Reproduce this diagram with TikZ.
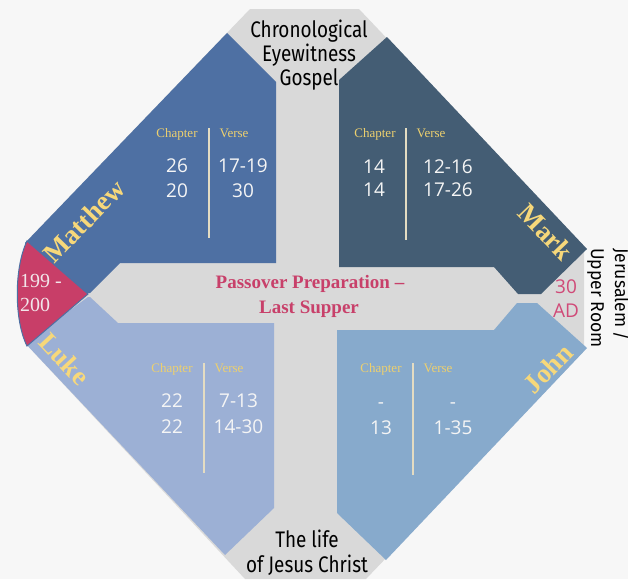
\documentclass[tikz,border=0pt]{standalone}
\usepackage{fontspec}
\setmainfont{Liberation Serif}
\newfontfamily\titlefont[FakeStretch=0.84]{Fira Sans}
\newfontfamily\sidefont[FakeStretch=0.95]{Fira Sans}
\newfontfamily\numfont{Open Sans}
\definecolor{bgc}{HTML}{F7F7F7}
\definecolor{grayc}{HTML}{D9D9D9}
\definecolor{mattc}{HTML}{4E70A3}
\definecolor{markc}{HTML}{445D74}
\definecolor{lukec}{HTML}{9CB0D5}
\definecolor{johnc}{HTML}{87AACC}
\definecolor{redc}{HTML}{C83E68}
\definecolor{yelc}{HTML}{F7D87A}
\definecolor{labc}{HTML}{EDD06E}
\definecolor{pinkc}{HTML}{C8406A}
\definecolor{adc}{HTML}{D04A78}
\definecolor{numc}{HTML}{F5F5F5}
\definecolor{divc}{HTML}{E4DCC2}
\definecolor{redtxt}{HTML}{F2E6EA}
\begin{document}
\begin{tikzpicture}[x=1pt,y=-1pt,
  txt/.style={inner sep=0pt,anchor=base},
  titletxt/.style={txt,font=\titlefont\fontsize{22.5}{24}\selectfont,text=black},
  sidetxt/.style={inner sep=0pt,anchor=base west,rotate=-90,font=\sidefont\fontsize{18.5}{20}\selectfont,text=black},
  passtxt/.style={txt,font=\bfseries\fontsize{19}{21}\selectfont,text=pinkc},
  lab/.style={txt,font=\fontsize{13}{15}\selectfont,text=labc},
  num/.style={txt,font=\numfont\fontsize{19}{21}\selectfont,text=numc},
  gname/.style={inner sep=0pt,anchor=center,font=\bfseries\fontsize{27}{29}\selectfont,text=yelc},
  divline/.style={draw=divc,line width=1.5pt}]
\useasboundingbox (0,0) rectangle (628,579);
\fill[bgc] (0,0) rectangle (628,579);
% gray octagon
\fill[grayc] (250,9) -- (359,9) -- (584,246) -- (584,351) -- (366,579) -- (245,579) -- (25,343) -- (25,243) -- cycle;
% gospel panels
\fill[mattc] (227,33) -- (276,82) -- (276,263) -- (120,263) -- (90,293) -- (25,293) -- (25,243) -- cycle;
\fill[lukec] (25,343) -- (88,297) -- (90,297) -- (118,323) -- (274,323) -- (274,508) -- (225,555) -- cycle;
\fill[markc] (387,37) -- (587,249) -- (541,294) -- (518,294) -- (494,267) -- (339,267) -- (339,80) -- cycle;
\fill[johnc] (517,303) -- (537,303) -- (587,348) -- (386,560) -- (337,513) -- (337,330) -- (494,330) -- cycle;
% red segment
\filldraw[fill=redc,draw=mattc,line width=1pt] (27,241) -- (88,294) -- (27,346) .. controls (14,320) and (14,268) .. (27,241) -- cycle;
% dividers
\draw[divline] (209,128) -- (209,238);
\draw[divline] (406,128) -- (406,240);
\draw[divline] (204,363) -- (204,473);
\draw[divline] (413,363) -- (413,475);
% title texts
\node[titletxt] (t1) at (309,37.5) {Chronological};
\node[titletxt] (t2) at (309,61.5) {Eyewitness};
\node[titletxt] (t3) at (309,85.5) {Gospel};
\node[titletxt] (b1) at (307,547) {The life};
\node[titletxt] (b2) at (307,572) {of Jesus Christ};
\node[sidetxt] (s1) at (615,248) {Jerusalem /};
\node[sidetxt] (s2) at (591,248) {Upper Room};
\node[passtxt] (p1) at (310,288) {Passover Preparation –};
\node[passtxt] (p2) at (309,313) {Last Supper};
\node[txt,anchor=base west,font=\fontsize{20}{22}\selectfont,text=redtxt] (r1) at (20,287) {199 -};
\node[txt,anchor=base west,font=\fontsize{20}{22}\selectfont,text=redtxt] (r2) at (20,311) {200};
\node[txt,font=\numfont\fontsize{19}{21}\selectfont,text=adc] (a1) at (566,293) {30};
\node[txt,font=\numfont\fontsize{19}{21}\selectfont,text=adc] (a2) at (566,317) {AD};
% gospel names
\node[gname,rotate=46] (gm) at (84,221) {Matthew};
\node[gname,rotate=-46] (gk) at (546,232) {Mark};
\node[gname,rotate=-47] (gl) at (64.5,359) {Luke};
\node[gname,rotate=46] (gj) at (548,368.5) {John};
% Matthew table
\node[lab] (mc) at (177,137) {Chapter};
\node[lab] (mv) at (234,137) {Verse};
\node[num] (m11) at (177,172) {26};
\node[num] (m21) at (177,197) {20};
\node[num] (m12) at (243,172) {17-19};
\node[num] (m22) at (243,197) {30};
% Mark table
\node[lab] (kc) at (375,137) {Chapter};
\node[lab] (kv) at (431,137) {Verse};
\node[num] (k11) at (374,173) {14};
\node[num] (k21) at (374,196) {14};
\node[num] (k12) at (448,173) {12-16};
\node[num] (k22) at (448,196) {17-26};
% Luke table
\node[lab] (lc) at (172,372) {Chapter};
\node[lab] (lv) at (229,372) {Verse};
\node[num] (l11) at (172,407) {22};
\node[num] (l21) at (172,433) {22};
\node[num] (l12) at (238.5,407) {7-13};
\node[num] (l22) at (238.5,433) {14-30};
% John table
\node[lab] (jc) at (381,372) {Chapter};
\node[lab] (jv) at (438,372) {Verse};
\node[num] (j11) at (381,408) {-};
\node[num] (j21) at (381,434) {13};
\node[num] (j12) at (453,408) {-};
\node[num] (j22) at (453,434) {1-35};
\end{tikzpicture}
\end{document}
